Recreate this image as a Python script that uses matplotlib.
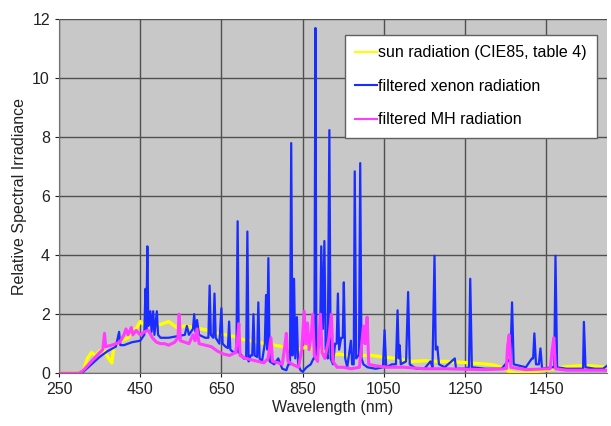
import matplotlib
matplotlib.use('Agg')
import matplotlib.pyplot as plt

plt.rcParams['font.family'] = ['Liberation Sans', 'DejaVu Sans']

# sun radiation (CIE85, table 4)
sun_wl = [250, 300, 310, 320, 330, 340, 350, 360, 370, 380, 385, 395, 405, 420, 430, 440,
          450, 460, 480, 500, 520, 540, 560, 580, 600, 620, 640, 660, 680, 700, 720, 740,
          760, 780, 800, 820, 840, 860, 880, 900, 920, 940, 960, 980, 1000, 1020, 1050,
          1080, 1100, 1120, 1150, 1180, 1200, 1230, 1260, 1290, 1320, 1340, 1360, 1380,
          1400, 1420, 1450, 1480, 1500, 1530, 1560, 1580, 1600]
sun_val = [0, 0, 0.1, 0.5, 0.7, 0.6, 0.75, 0.8, 0.55, 0.35, 0.9, 1.05, 1.1, 1.2, 1.45, 1.5,
           1.75, 1.65, 1.7, 1.65, 1.75, 1.55, 1.6, 1.55, 1.5, 1.45, 1.35, 1.3, 1.25, 1.15, 1.1, 1.05,
           1.0, 0.95, 0.9, 0.85, 0.8, 0.9, 0.8, 0.75, 0.6, 0.65, 0.6, 0.6, 0.6, 0.6, 0.55,
           0.5, 0.45, 0.4, 0.42, 0.4, 0.4, 0.38, 0.35, 0.32, 0.28, 0.2, 0.05, 0.0,
           0.02, 0.05, 0.1, 0.18, 0.22, 0.25, 0.25, 0.22, 0.2]

# filtered xenon radiation
xe_wl = [250, 300, 310, 330, 350, 370, 390, 398, 401, 410, 430, 450, 460, 463, 465, 467.6, 470,
         475, 478, 482, 485, 491, 494, 500, 520, 540, 560, 565, 570, 580, 583, 586, 590, 595,
         610, 618, 621, 624, 630, 633, 636, 645, 650, 653, 660, 666, 669, 672, 680, 687, 690,
         693, 700, 705, 711, 714, 717, 722, 726, 729, 732, 738, 741, 744, 750, 757, 760, 763,
         765.7, 769, 780, 790, 800, 810, 815, 819, 822, 825, 829, 832, 836, 839, 845, 850, 860,
         870, 877, 879, 881.7, 884, 890, 893, 896, 900, 903.7, 907, 912, 916, 919, 925, 930,
         934, 937, 940, 945, 949, 951.6, 955, 960, 969, 972, 976, 978.5, 982, 987, 989, 992,
         995, 1000, 1010, 1030, 1048, 1052, 1056, 1070, 1080, 1084, 1087, 1089, 1092, 1105,
         1110, 1114, 1130, 1150, 1165, 1170, 1175, 1178, 1182, 1186, 1200, 1225, 1228, 1250,
         1260, 1263, 1267, 1300, 1340, 1362, 1366, 1370, 1400, 1415, 1418, 1421, 1425, 1432,
         1436, 1440, 1465, 1470, 1473, 1477, 1500, 1538, 1541, 1543, 1547, 1570, 1590, 1600]
xe_val = [0, 0, 0.05, 0.3, 0.55, 0.75, 0.9, 1.4, 0.95, 0.95, 1.05, 1.1, 1.3, 2.86, 1.5, 4.3, 1.6,
          2.1, 1.4, 2.1, 1.3, 2.1, 1.3, 1.2, 1.2, 1.25, 1.3, 1.6, 1.3, 1.5, 2.0, 1.4, 1.8, 1.3,
          1.2, 1.2, 2.97, 1.3, 1.2, 2.7, 1.2, 1.0, 2.2, 1.0, 0.9, 0.85, 1.75, 0.8, 0.7, 0.7, 5.15,
          0.7, 0.6, 0.5, 0.5, 4.8, 0.4, 0.6, 0.6, 2.0, 0.6, 0.55, 2.4, 0.5, 0.4, 1.0, 2.65, 0.8,
          3.9, 0.4, 0.3, 0.5, 0.15, 0.1, 0.3, 0.3, 7.8, 0.6, 3.2, 0.5, 1.9, 0.3, 0.1, 0.05, 0.2,
          0.3, 0.5, 0.5, 11.7, 0.6, 1.0, 1.0, 4.3, 1.5, 4.48, 0.8, 0.5, 8.24, 0.5, 0.3, 1.0,
          1.0, 2.7, 0.8, 1.2, 1.2, 3.08, 0.5, 0.2, 1.1, 0.3, 0.3, 6.84, 0.5, 0.6, 0.6, 7.12,
          0.5, 0.3, 0.2, 0.15, 0.2, 1.46, 0.2, 0.3, 0.3, 2.13, 0.5, 0.95, 0.3, 0.4,
          2.75, 0.3, 0.15, 0.15, 0.4, 0.2, 3.98, 0.8, 0.9, 0.3, 0.2, 0.5, 0.15, 0.15,
          0.2, 3.2, 0.2, 0.15, 0.15, 0.5, 2.4, 0.3, 0.2, 0.5, 0.5, 1.35, 0.3, 0.3,
          0.84, 0.15, 0.2, 0.2, 3.98, 0.2, 0.15, 0.15, 0.15, 1.74, 0.2, 0.15, 0.15, 0.25]

# filtered MH radiation
mh_wl = [250, 300, 310, 330, 350, 358, 362, 365, 380, 400, 410, 415, 420, 428, 432, 440, 450,
         460, 470, 480, 490, 500, 510, 520, 535, 543, 546, 549, 560, 570, 580, 585, 590, 595,
         610, 625, 640, 655, 670, 685, 690, 693, 696, 710, 725, 740, 755, 765, 772, 776, 790,
         800, 806, 810, 814, 825, 840, 848, 854, 858, 862, 866, 872, 875, 879, 887, 894, 898,
         905, 915, 921, 925, 935, 950, 970, 990, 1000, 1004, 1009, 1013, 1030, 1060, 1100,
         1150, 1200, 1300, 1352, 1355, 1359, 1363, 1400, 1460, 1465, 1469, 1473, 1500, 1600]
mh_val = [0, 0, 0.1, 0.4, 0.7, 0.8, 1.35, 0.9, 0.95, 1.05, 1.3, 1.5, 1.3, 1.55, 1.3, 1.45, 1.3,
          1.4, 1.45, 1.2, 1.05, 1.0, 1.0, 0.95, 1.05, 1.2, 2.0, 1.1, 1.05, 1.0, 1.3, 1.1, 1.5, 1.0,
          0.95, 0.9, 0.75, 0.65, 0.6, 0.7, 1.2, 1.68, 0.6, 0.5, 0.45, 0.4, 0.35, 0.5, 1.2, 0.4, 0.35,
          0.3, 0.9, 1.35, 0.4, 0.3, 0.2, 0.8, 2.1, 1.0, 1.7, 0.8, 1.4, 2.0, 0.6, 0.4, 2.0, 0.7,
          0.5, 1.2, 2.0, 0.4, 0.2, 0.2, 0.15, 0.2, 1.6, 1.0, 1.9, 0.3, 0.25, 0.2, 0.2,
          0.15, 0.15, 0.12, 0.15, 0.9, 1.3, 0.2, 0.12, 0.15, 0.8, 1.2, 0.15, 0.1, 0.1]

xticks = [250, 450, 650, 850, 1050, 1250, 1450]
yticks = [0, 2, 4, 6, 8, 10, 12]

fig = plt.figure(figsize=(6.11, 4.26), dpi=100)
ax = fig.add_axes([0.0966, 0.124, 0.8969, 0.831])
ax.set_facecolor('#c8c8c8')

ax.plot(sun_wl, sun_val, color='#ffff00', lw=2.4, label='sun radiation (CIE85, table 4)')
ax.plot(xe_wl, xe_val, color='#1a2cff', lw=1.6, label='filtered xenon radiation')
ax.plot(mh_wl, mh_val, color='#ff3cff', lw=2.2, label='filtered MH radiation')

ax.set_xlim(250, 1600)
ax.set_ylim(0, 12)
ax.set_xticks(xticks)
ax.set_yticks(yticks)
ax.grid(True, color='#505050', lw=1.0)
ax.set_axisbelow(True)
for s in ['top', 'right']:
    ax.spines[s].set_visible(False)
for s in ['left', 'bottom']:
    ax.spines[s].set_color('#707070')
ax.tick_params(labelsize=11.5, colors='#222222', length=3)

ax.set_xlabel('Wavelength (nm)', fontsize=11.5, color='#222222', labelpad=2)
ax.set_ylabel('Relative Spectral Irradiance', fontsize=11.5, color='#222222', labelpad=4)

leg = ax.legend(loc='upper right', bbox_to_anchor=(0.982, 0.955), borderaxespad=0,
                fancybox=False, fontsize=11.5, handlelength=1.4, handletextpad=0.05,
                labelspacing=1.15, borderpad=0.65, framealpha=1)
leg.get_frame().set_edgecolor('#606060')
for line in leg.get_lines():
    line.set_linewidth(1.5)

fig.savefig('out.png', dpi=100)
